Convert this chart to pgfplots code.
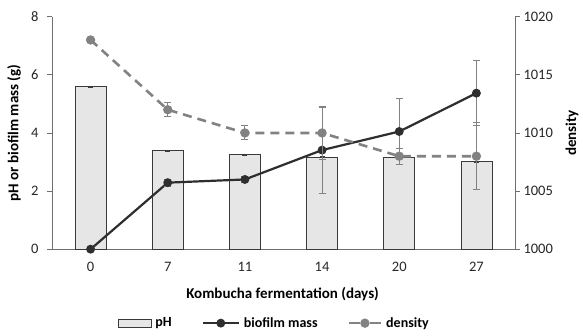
\documentclass[border=0pt]{standalone}
\usepackage{fontspec}
\setmainfont{Carlito}
\usepackage{pgfplots}
\pgfplotsset{compat=1.18}
\definecolor{barfill}{HTML}{E6E6E6}
\definecolor{bardraw}{HTML}{3A3A3A}
\definecolor{biofilm}{HTML}{2E2E2E}
\definecolor{dens}{HTML}{828282}
\definecolor{axcol}{HTML}{6E6E6E}
\pgfplotsset{
  barlegend/.style={legend image code/.code={\draw[##1] (0pt,-4pt) rectangle (33pt,4pt);}},
  linelegA/.style={legend image code/.code={\draw[##1, mark repeat=2, mark phase=2] plot coordinates {(0pt,0pt) (18pt,0pt) (36pt,0pt)};}},
  linelegB/.style={legend image code/.code={\draw[##1, dash pattern=on 11pt off 10pt on 11pt off 0pt, mark repeat=2, mark phase=2] plot coordinates {(0pt,0pt) (16pt,0pt) (32pt,0pt)};}},
}
\begin{document}
\begin{tikzpicture}
\useasboundingbox (-52pt,-86pt) rectangle (531pt,249.2pt);
\pgfplotsset{
  common/.style={
    at={(0,0)}, anchor=south west, scale only axis,
    width=463pt, height=232.5pt,
    xmin=-0.5, xmax=5.5,
    tick align=outside, major tick length=5pt,
    tick style={axcol, line width=0.8pt},
    axis line style={axcol, line width=0.8pt},
    tick label style={font=\fontsize{14.5}{17}\selectfont, text=black!85},
    label style={font=\bfseries\fontsize{15}{17}\selectfont},
    /pgf/number format/assume math mode=true,
    /pgf/number format/1000 sep={},
    scaled y ticks=false,
  }
}
\begin{axis}[common,
  ymin=0, ymax=8, ytick={0,2,4,6,8},
  axis x line*=bottom, axis y line*=left,
  xtick={0,1,2,3,4,5}, xticklabels={0,7,11,14,20,27},
  x tick style={draw=none},
  xticklabel style={yshift=-4pt},
  yticklabel style={xshift=-5pt},
  xlabel={Kombucha fermentation (days)},
  ylabel={pH or biofilm mass (g)},
  xlabel style={at={(axis description cs:0.498,-0.193)}, anchor=center},
  ylabel style={at={(axis description cs:-0.082,0.5)}, anchor=center, rotate=0},
]
\addplot[ybar, bar width=31pt, fill=barfill, draw=bardraw, line width=0.7pt,
  error bars/.cd, y dir=both, y explicit,
  error bar style={bardraw, line width=0.7pt},
  error mark options={rotate=90, mark size=2.5pt, bardraw}]
  coordinates {(0,5.59) +- (0,0.01) (1,3.40) +- (0,0.02) (2,3.25) +- (0,0.02)
               (3,3.17) +- (0,0.02) (4,3.17) +- (0,0.02) (5,3.01) +- (0,0.02)};
\addplot[biofilm, line width=2.2pt, mark=*, mark size=3.3pt,
  mark options={biofilm, solid},
  error bars/.cd, y dir=both, y explicit,
  error bar style={dens, line width=1pt},
  error mark options={rotate=90, mark size=3.5pt, dens, line width=1pt}]
  coordinates {(0,0) +- (0,0) (1,2.29) +- (0,0.12) (2,2.40) +- (0,0.10)
               (3,3.41) +- (0,1.48) (4,4.05) +- (0,1.15) (5,5.37) +- (0,1.11)};
\end{axis}
\begin{axis}[common,
  ymin=1000, ymax=1020, ytick={1000,1005,1010,1015,1020},
  axis x line=none, axis y line*=right,
  ylabel={density},
  ylabel style={at={(axis description cs:1.123,0.5)}, anchor=center, rotate=0},
  legend columns=3,
  legend style={at={(axis description cs:0.48,-0.318)}, anchor=center,
    draw=none, fill=none, font=\bfseries\fontsize{14}{16}\selectfont,
    /tikz/every even column/.append style={column sep=28pt},
    /tikz/every odd column/.append style={column sep=2pt},
    inner sep=1pt},
]
\addlegendimage{barlegend, fill=barfill, draw=bardraw, line width=0.7pt}
\addlegendentry{pH}
\addlegendimage{linelegA, biofilm, line width=2.2pt, mark=*, mark size=3.3pt}
\addlegendentry{biofilm mass}
\addplot[linelegB, dens, line width=2.6pt, dash pattern=on 9pt off 6pt, mark=*, mark size=3.3pt,
  mark options={dens, solid},
  error bars/.cd, y dir=both, y explicit,
  error bar style={dens, line width=1pt, solid},
  error mark options={rotate=90, mark size=3.5pt, dens, line width=1pt, solid}]
  coordinates {(0,1018) +- (0,0) (1,1012) +- (0,0.6) (2,1010) +- (0,0.6)
               (3,1010) +- (0,2.3) (4,1008) +- (0,0.7) (5,1008) +- (0,2.9)};
\addlegendentry{density}
\end{axis}
\end{tikzpicture}
\end{document}
